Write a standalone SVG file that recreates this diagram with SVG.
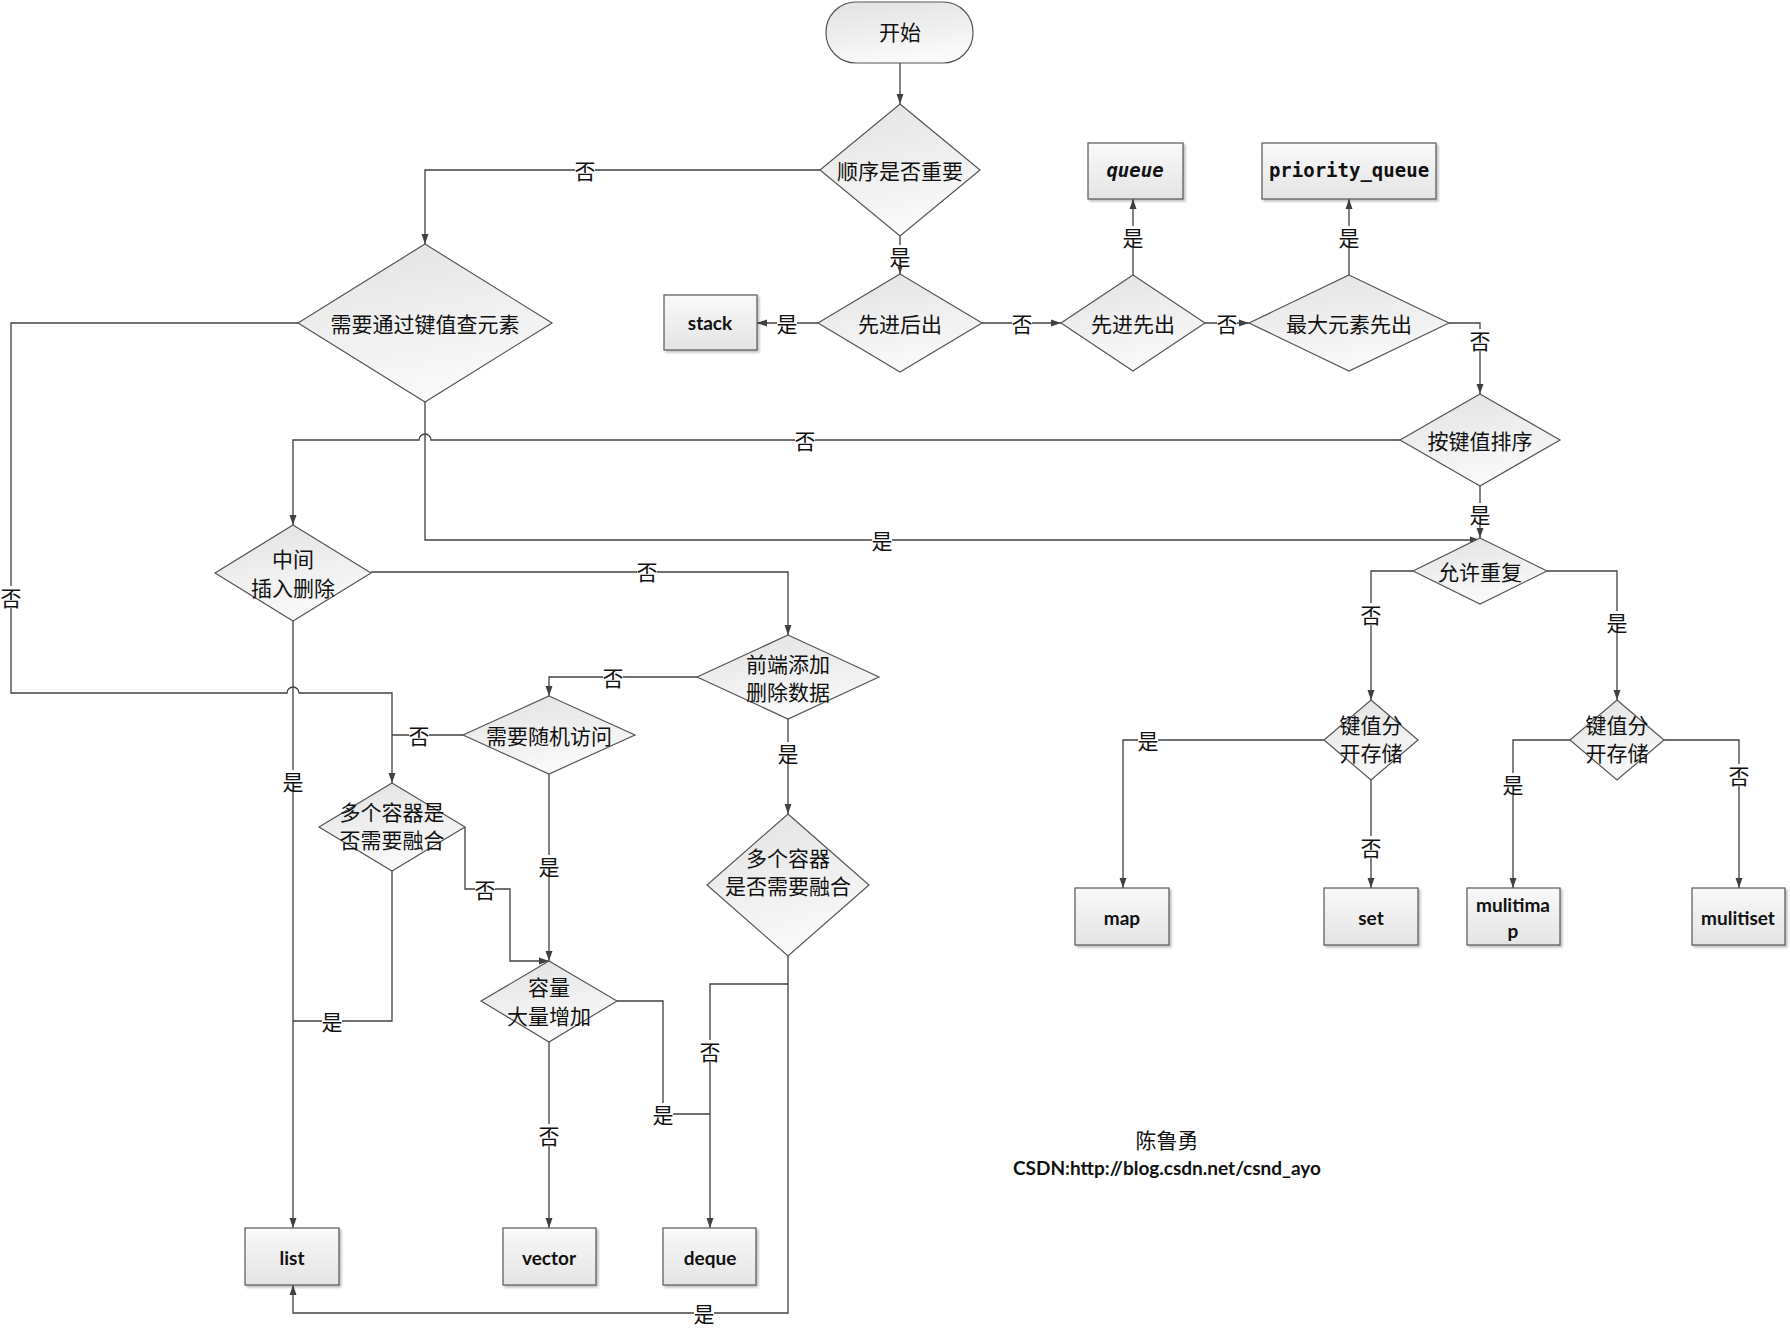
<svg xmlns="http://www.w3.org/2000/svg" width="1790" height="1329" viewBox="0 0 1790 1329">
<style>
.sh{fill:url(#gd);stroke:#555;stroke-width:1.2}
.bx{fill:url(#gb);stroke:#555;stroke-width:1.2;filter:url(#ds)}
.cn{fill:none;stroke:#404040;stroke-width:1.3}
.ar{marker-end:url(#ah)}
.t{font-family:"Noto Sans CJK SC","Noto Sans",sans-serif;font-size:21px;fill:#111;text-anchor:middle;dominant-baseline:central}
.b{font-family:Lato,"Liberation Sans",sans-serif;font-weight:bold;font-size:19px;fill:#111;text-anchor:middle;dominant-baseline:central}
.m{font-family:"DejaVu Sans Mono","Liberation Mono",monospace;font-weight:bold;font-size:19px;fill:#111;text-anchor:middle;dominant-baseline:central}
.lb{fill:#fff}
</style>
<defs>
<linearGradient id="gd" x1="0" y1="0" x2="0.3" y2="1"><stop offset="0" stop-color="#e2e2e2"/><stop offset="1" stop-color="#f9f9f9"/></linearGradient>
<linearGradient id="gb" x1="0" y1="0" x2="0" y2="1"><stop offset="0" stop-color="#f9f9f9"/><stop offset="1" stop-color="#e4e4e4"/></linearGradient>
<filter id="ds" x="-10%" y="-10%" width="130%" height="130%"><feDropShadow dx="2" dy="2" stdDeviation="1.2" flood-color="#000" flood-opacity="0.25"/></filter>
<marker id="ah" viewBox="0 0 10 10" refX="10" refY="5" markerWidth="10" markerHeight="10" markerUnits="userSpaceOnUse" orient="auto"><path d="M0,1.5 L10,5 L0,8.5 z" fill="#404040"/></marker>
</defs>
<rect width="1790" height="1329" fill="#fff"/>

<g id="connectors">
<path class="cn ar" d="M900,63 V104"/>
<path class="cn ar" d="M900,236 V274"/>
<path class="cn ar" d="M818,323 H757"/>
<path class="cn ar" d="M982,323 H1061"/>
<path class="cn ar" d="M1133,275 V199"/>
<path class="cn ar" d="M1205,323 H1249"/>
<path class="cn ar" d="M1349,275 V199"/>
<path class="cn ar" d="M1449,323 H1480 V394"/>
<path class="cn ar" d="M1400,440 H431 A6,6 0 0 0 419,440 H293 V525"/>
<path class="cn ar" d="M1480,486 V538"/>
<path class="cn ar" d="M820,170 H425 V244"/>
<path class="cn ar" d="M425,402 V540 H1480"/>
<path class="cn ar" d="M298,323 H11 V693 H287 A6,6 0 0 1 299,693 H392 V783"/>
<path class="cn ar" d="M371,572 H788 V635"/>
<path class="cn ar" d="M697,677 H549 V696"/>
<path class="cn" d="M463,735 H392"/>
<path class="cn ar" d="M293,621 V1228"/>
<path class="cn" d="M392,871 V1021 H293"/>
<path class="cn ar" d="M465,827 V889 H510 V961 H549"/>
<path class="cn ar" d="M549,774 V961"/>
<path class="cn" d="M617,1001 H663 V1114 H710"/>
<path class="cn ar" d="M549,1042 V1228"/>
<path class="cn ar" d="M788,719 V814"/>
<path class="cn ar" d="M788,956 V1313 H293 V1285"/>
<path class="cn ar" d="M788,984 H710 V1228"/>
<path class="cn ar" d="M1413,571 H1371 V700"/>
<path class="cn ar" d="M1547,571 H1617 V700"/>
<path class="cn ar" d="M1324,740 H1123 V888"/>
<path class="cn ar" d="M1371,780 V888"/>
<path class="cn ar" d="M1570,740 H1513 V888"/>
<path class="cn ar" d="M1664,740 H1739 V888"/>
<g id="labels">
<rect class="lb" x="890" y="245" width="20" height="22"/><text class="t" x="900" y="256">是</text>
<rect class="lb" x="777" y="312" width="20" height="22"/><text class="t" x="787" y="323">是</text>
<rect class="lb" x="1012" y="312" width="20" height="22"/><text class="t" x="1022" y="323">否</text>
<rect class="lb" x="1123" y="226" width="20" height="22"/><text class="t" x="1133" y="237">是</text>
<rect class="lb" x="1217" y="312" width="20" height="22"/><text class="t" x="1227" y="323">否</text>
<rect class="lb" x="1339" y="226" width="20" height="22"/><text class="t" x="1349" y="237">是</text>
<rect class="lb" x="1470" y="329" width="20" height="22"/><text class="t" x="1480" y="340">否</text>
<rect class="lb" x="795" y="429" width="20" height="22"/><text class="t" x="805" y="440">否</text>
<rect class="lb" x="1470" y="503" width="20" height="22"/><text class="t" x="1480" y="514">是</text>
<rect class="lb" x="575" y="159" width="20" height="22"/><text class="t" x="585" y="170">否</text>
<rect class="lb" x="872" y="529" width="20" height="22"/><text class="t" x="882" y="540">是</text>
<rect class="lb" x="1" y="586" width="20" height="22"/><text class="t" x="11" y="597">否</text>
<rect class="lb" x="637" y="561" width="20" height="22"/><text class="t" x="647" y="571">否</text>
<rect class="lb" x="603" y="666" width="20" height="22"/><text class="t" x="613" y="677">否</text>
<rect class="lb" x="409" y="724" width="20" height="22"/><text class="t" x="419" y="735">否</text>
<rect class="lb" x="283" y="770" width="20" height="22"/><text class="t" x="293" y="781">是</text>
<rect class="lb" x="322" y="1010" width="20" height="22"/><text class="t" x="332" y="1021">是</text>
<rect class="lb" x="475" y="878" width="20" height="22"/><text class="t" x="485" y="889">否</text>
<rect class="lb" x="539" y="855" width="20" height="22"/><text class="t" x="549" y="866">是</text>
<rect class="lb" x="653" y="1103" width="20" height="22"/><text class="t" x="663" y="1114">是</text>
<rect class="lb" x="539" y="1124" width="20" height="22"/><text class="t" x="549" y="1135">否</text>
<rect class="lb" x="778" y="742" width="20" height="22"/><text class="t" x="788" y="753">是</text>
<rect class="lb" x="694" y="1302" width="20" height="22"/><text class="t" x="704" y="1313">是</text>
<rect class="lb" x="700" y="1040" width="20" height="22"/><text class="t" x="710" y="1051">否</text>
<rect class="lb" x="1361" y="603" width="20" height="22"/><text class="t" x="1371" y="614">否</text>
<rect class="lb" x="1607" y="611" width="20" height="22"/><text class="t" x="1617" y="622">是</text>
<rect class="lb" x="1138" y="729" width="20" height="22"/><text class="t" x="1148" y="740">是</text>
<rect class="lb" x="1361" y="836" width="20" height="22"/><text class="t" x="1371" y="847">否</text>
<rect class="lb" x="1503" y="773" width="20" height="22"/><text class="t" x="1513" y="784">是</text>
<rect class="lb" x="1729" y="764" width="20" height="22"/><text class="t" x="1739" y="775">否</text>
</g>
</g>

<g id="start"><rect class="sh" x="826" y="2" width="147" height="61" rx="30"/><text class="t" x="900" y="31">开始</text></g>
<g id="d_order"><polygon class="sh" points="900,104 980,170 900,236 820,170"/><text class="t" x="900" y="170">顺序是否重要</text></g>
<g id="d_lifo"><polygon class="sh" points="900,274 982,323 900,372 818,323"/><text class="t" x="900" y="323">先进后出</text></g>
<g id="d_fifo"><polygon class="sh" points="1133,275 1205,323 1133,371 1061,323"/><text class="t" x="1133" y="323">先进先出</text></g>
<g id="d_max"><polygon class="sh" points="1349,275 1449,323 1349,371 1249,323"/><text class="t" x="1349" y="323">最大元素先出</text></g>
<g id="d_sort"><polygon class="sh" points="1480,394 1560,440 1480,486 1400,440"/><text class="t" x="1480" y="440">按键值排序</text></g>
<g id="d_dup"><polygon class="sh" points="1480,538 1547,571 1480,604 1413,571"/><text class="t" x="1480" y="571">允许重复</text></g>
<g id="d_key"><polygon class="sh" points="425,244 552,323 425,402 298,323"/><text class="t" x="425" y="323">需要通过键值查元素</text></g>
<g id="d_mid"><polygon class="sh" points="293,525 371,573 293,621 215,573"/><text class="t" x="293" y="558">中间</text><text class="t" x="293" y="587">插入删除</text></g>
<g id="d_front"><polygon class="sh" points="788,635 879,677 788,719 697,677"/><text class="t" x="788" y="663">前端添加</text><text class="t" x="788" y="691">删除数据</text></g>
<g id="d_rand"><polygon class="sh" points="549,696 635,735 549,774 463,735"/><text class="t" x="549" y="735">需要随机访问</text></g>
<g id="d_merge1"><polygon class="sh" points="392,783 465,827 392,871 319,827"/><text class="t" x="392" y="811">多个容器是</text><text class="t" x="392" y="839">否需要融合</text></g>
<g id="d_cap"><polygon class="sh" points="549,961 617,1001 549,1042 481,1001"/><text class="t" x="549" y="986">容量</text><text class="t" x="549" y="1015">大量增加</text></g>
<g id="d_merge2"><polygon class="sh" points="788,814 869,885 788,956 707,885"/><text class="t" x="788" y="857">多个容器</text><text class="t" x="788" y="885">是否需要融合</text></g>
<g id="d_kv1"><polygon class="sh" points="1371,700 1418,740 1371,780 1324,740"/><text class="t" x="1371" y="724">键值分</text><text class="t" x="1371" y="752">开存储</text></g>
<g id="d_kv2"><polygon class="sh" points="1617,700 1664,740 1617,780 1570,740"/><text class="t" x="1617" y="724">键值分</text><text class="t" x="1617" y="752">开存储</text></g>

<g id="b_stack"><rect class="bx" x="664" y="295" width="93" height="55"/><text class="b" x="710" y="322">stack</text></g>
<g id="b_queue"><rect class="bx" x="1088" y="143" width="95" height="56"/><text class="m" x="1135" y="170" font-style="italic">queue</text></g>
<g id="b_pq"><rect class="bx" x="1262" y="143" width="174" height="56"/><text class="m" x="1349" y="170">priority_queue</text></g>
<g id="b_list"><rect class="bx" x="245" y="1228" width="94" height="57"/><text class="b" x="292" y="1257">list</text></g>
<g id="b_vector"><rect class="bx" x="503" y="1228" width="93" height="57"/><text class="b" x="549" y="1257">vector</text></g>
<g id="b_deque"><rect class="bx" x="663" y="1228" width="93" height="57"/><text class="b" x="710" y="1257">deque</text></g>
<g id="b_map"><rect class="bx" x="1075" y="888" width="94" height="57"/><text class="b" x="1122" y="917">map</text></g>
<g id="b_set"><rect class="bx" x="1324" y="888" width="94" height="57"/><text class="b" x="1371" y="917">set</text></g>
<g id="b_multimap"><rect class="bx" x="1467" y="888" width="93" height="57"/><text class="b" x="1513" y="904">mulitima</text><text class="b" x="1513" y="930">p</text></g>
<g id="b_multiset"><rect class="bx" x="1692" y="888" width="93" height="57"/><text class="b" x="1738" y="917">mulitiset</text></g>

<g id="credit">
<text class="t" x="1167" y="1139">陈鲁勇</text>
<text class="b" x="1167" y="1167">CSDN:http://blog.csdn.net/csnd_ayo</text>
</g>
</svg>
